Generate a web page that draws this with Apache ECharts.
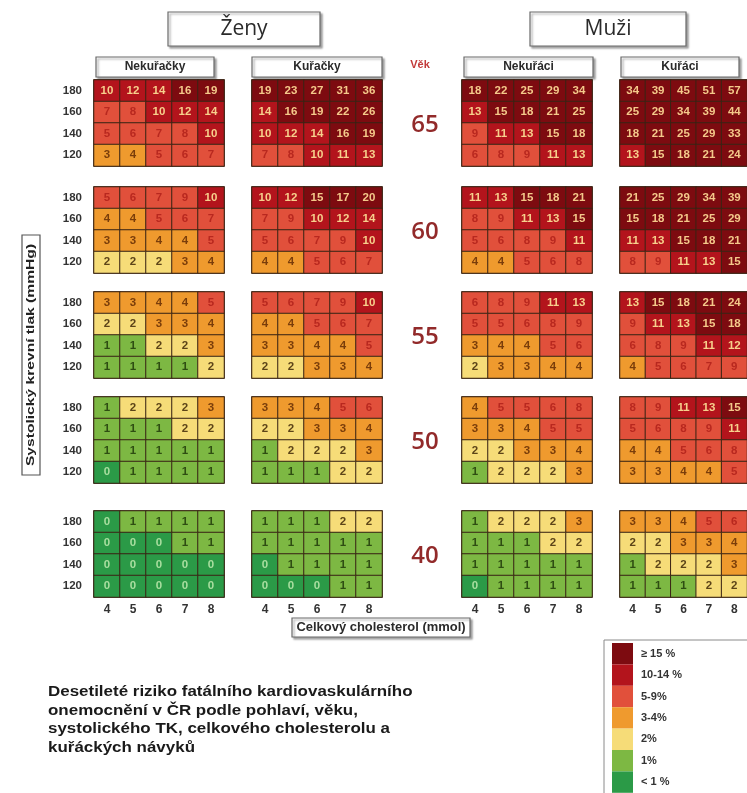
<!DOCTYPE html>
<html><head><meta charset="utf-8">
<script src="https://cdn.jsdelivr.net/npm/echarts@6/dist/echarts.min.js"></script>
<style>html,body{margin:0;padding:0;background:#fff}#c{width:747px;height:793px}</style>
</head><body><div id="c"></div><script>
// ---- data ----
const cholesterol = ['4', '5', '6', '7', '8'];
const systolic = ['120', '140', '160', '180'];   // bottom -> top
const ages = ['65', '60', '55', '50', '40'];
const groupNames = ['Nekuřačky', 'Kuřačky', 'Nekuřáci', 'Kuřáci'];
const genderNames = ['Ženy', 'Muži'];
// each age block: rows SBP 180,160,140,120 ; columns cholesterol 4..8
const zenyNekuracky = [
  [[10,12,14,16,19],[7,8,10,12,14],[5,6,7,8,10],[3,4,5,6,7]],
  [[5,6,7,9,10],[4,4,5,6,7],[3,3,4,4,5],[2,2,2,3,4]],
  [[3,3,4,4,5],[2,2,3,3,4],[1,1,2,2,3],[1,1,1,1,2]],
  [[1,2,2,2,3],[1,1,1,2,2],[1,1,1,1,1],[0,1,1,1,1]],
  [[0,1,1,1,1],[0,0,0,1,1],[0,0,0,0,0],[0,0,0,0,0]]
];
const zenyKuracky = [
  [[19,23,27,31,36],[14,16,19,22,26],[10,12,14,16,19],[7,8,10,11,13]],
  [[10,12,15,17,20],[7,9,10,12,14],[5,6,7,9,10],[4,4,5,6,7]],
  [[5,6,7,9,10],[4,4,5,6,7],[3,3,4,4,5],[2,2,3,3,4]],
  [[3,3,4,5,6],[2,2,3,3,4],[1,2,2,2,3],[1,1,1,2,2]],
  [[1,1,1,2,2],[1,1,1,1,1],[0,1,1,1,1],[0,0,0,1,1]]
];
const muziNekuraci = [
  [[18,22,25,29,34],[13,15,18,21,25],[9,11,13,15,18],[6,8,9,11,13]],
  [[11,13,15,18,21],[8,9,11,13,15],[5,6,8,9,11],[4,4,5,6,8]],
  [[6,8,9,11,13],[5,5,6,8,9],[3,4,4,5,6],[2,3,3,4,4]],
  [[4,5,5,6,8],[3,3,4,5,5],[2,2,3,3,4],[1,2,2,2,3]],
  [[1,2,2,2,3],[1,1,1,2,2],[1,1,1,1,1],[0,1,1,1,1]]
];
const muziKuraci = [
  [[34,39,45,51,57],[25,29,34,39,44],[18,21,25,29,33],[13,15,18,21,24]],
  [[21,25,29,34,39],[15,18,21,25,29],[11,13,15,18,21],[8,9,11,13,15]],
  [[13,15,18,21,24],[9,11,13,15,18],[6,8,9,11,12],[4,5,6,7,9]],
  [[8,9,11,13,15],[5,6,8,9,11],[4,4,5,6,8],[3,3,4,4,5]],
  [[3,3,4,5,6],[2,2,3,3,4],[1,2,2,2,3],[1,1,1,2,2]]
];
const riskLabels = ['< 1 %', '1%', '2%', '3-4%', '5-9%', '10-14 %', '≥ 15 %'];
const description = ['Desetileté riziko fatálního kardiovaskulárního', 'onemocnění v ČR podle pohlaví, věku,', 'systolického TK, celkového cholesterolu a', 'kuřáckých návyků'];

// ---- styling / layout ----
const groups = [zenyNekuracky, zenyKuracky, muziNekuraci, muziKuraci];
const colLeft = [94, 252, 462, 620];
const rowTop = [80, 187, 292, 397, 511];
const cellW = 26, cellH = 21.5;
const riskColors = ['#2b9a47', '#7db843', '#f6dc78', '#ef9a2e', '#e1503b', '#b3141c', '#7d0b10'];
const textColors = ['#a9de9f', '#2e4d12', '#5c4418', '#7a3d0a', '#b8281f', '#f7d08c', '#f4c98a'];
function bucket(v) { if (v < 1) return 0; if (v < 2) return 1; if (v < 3) return 2; if (v < 5) return 3; if (v < 10) return 4; if (v < 15) return 5; return 6; }
const ageColor = '#922a2a';
const FONT = 'Liberation Sans';

const grid = [], xAxis = [], yAxis = [], series = [];
ages.forEach((age, a) => {
  groups.forEach((grp, c) => {
    const gi = grid.length;
    grid.push({ left: colLeft[c], top: rowTop[a], width: cellW * 5, height: cellH * 4,
      show: true, borderColor: '#3a2414', borderWidth: 1.5, backgroundColor: 'transparent' });
    xAxis.push({ type: 'category', gridIndex: gi, data: cholesterol,
      axisLine: { show: false }, axisTick: { show: false }, splitLine: { show: false },
      axisLabel: { show: a === ages.length - 1, margin: 7, color: '#333', fontWeight: 'bold', fontSize: 12, fontFamily: FONT } });
    yAxis.push({ type: 'category', gridIndex: gi, data: systolic,
      axisLine: { show: false }, axisTick: { show: false }, splitLine: { show: false },
      axisLabel: { show: c === 0, margin: 12, color: '#333', fontWeight: 'bold', fontSize: 11.5, fontFamily: FONT } });
    const data = [];
    grp[a].forEach((row, r) => {
      row.forEach((v, x) => {
        data.push({ value: [x, 3 - r, v], label: { color: textColors[bucket(v)] } });
      });
    });
    series.push({ type: 'heatmap', xAxisIndex: gi, yAxisIndex: gi, data,
      itemStyle: { borderColor: '#3a2414', borderWidth: 1 },
      label: { show: true, formatter: p => p.value[2], fontWeight: 'bold', fontSize: 11.5, fontFamily: FONT },
      emphasis: { disabled: true }, silent: true });
  });
});

const graphic = [];
function box(x, y, w, h, txt, font, shadow, sx) {
  graphic.push({ type: 'rect', shape: { x, y, width: w, height: h },
    style: { fill: '#fff', stroke: '#6a6a6a', lineWidth: 1.2, shadowColor: shadow ? 'rgba(0,0,0,0.35)' : 'transparent', shadowOffsetX: 2, shadowOffsetY: 2, shadowBlur: 2 } });
  graphic.push({ type: 'text', x: x + w / 2, y: y + h / 2, scaleX: sx || 1,
    style: { text: txt, font, fill: '#2a2a2a', align: 'center', verticalAlign: 'middle' } });
}
box(168, 12, 152, 34, genderNames[0], '500 21px "Open Sans"', true);
box(530, 12, 156, 34, genderNames[1], '500 21px "Open Sans"', true);
const subX = [96, 252, 464, 621], subW = [118, 130, 129, 118];
groupNames.forEach((g, i) => box(subX[i], 57, subW[i], 20, g, 'bold 12px ' + FONT, true));
graphic.push({ type: 'text', x: 420, y: 65, style: { text: 'Věk', font: 'bold 11px ' + FONT, fill: '#c23a3a', align: 'center', verticalAlign: 'middle' } });
ages.forEach((age, a) => {
  graphic.push({ type: 'text', x: 425, y: rowTop[a] + cellH * 2 + 2,
    style: { text: age, font: '600 24px "Open Sans"', fill: ageColor, align: 'center', verticalAlign: 'middle' } });
});
// y axis title
graphic.push({ type: 'rect', shape: { x: 22, y: 235, width: 18, height: 240 }, style: { fill: '#fff', stroke: '#555', lineWidth: 1.2 } });
graphic.push({ type: 'text', x: 31, y: 355, rotation: Math.PI / 2, scaleX: 1.42,
  style: { text: 'Systolický krevní tlak (mmHg)', font: 'bold 11px ' + FONT, fill: '#222', align: 'center', verticalAlign: 'middle' } });
// x axis title
box(292, 618, 178, 19, 'Celkový cholesterol (mmol)', 'bold 12px ' + FONT, true, 1.08);
// description
graphic.push({ type: 'text', x: 48, y: 683, scaleX: 1.13,
  style: { text: description.join('\n'), font: 'bold 15px ' + FONT, lineHeight: 18.5, fill: '#1a1a1a', align: 'left', verticalAlign: 'top' } });
// legend frame
graphic.push({ type: 'rect', z: -1, shape: { x: 604, y: 640, width: 160, height: 160 }, style: { fill: '#fff', stroke: '#8a8a8a', lineWidth: 1 } });

const pieces = [
  { lt: 1 }, { gte: 1, lt: 2 }, { gte: 2, lt: 3 }, { gte: 3, lt: 5 },
  { gte: 5, lt: 10 }, { gte: 10, lt: 15 }, { gte: 15 }
].map((p, i) => Object.assign(p, { label: riskLabels[i], color: riskColors[i] }));

const chart = echarts.init(document.getElementById('c'), null, { renderer: 'canvas' });
chart.setOption({
  backgroundColor: '#fff',
  animation: false,
  grid, xAxis, yAxis, series, graphic,
  visualMap: {
    type: 'piecewise', dimension: 2, seriesIndex: series.map((s, i) => i),
    pieces, orient: 'vertical', left: 607, top: 638, padding: 5, align: 'left',
    itemWidth: 21, itemHeight: 21.4, itemGap: 0,
    itemSymbol: 'rect', textGap: 8, selectedMode: false, hoverLink: false,
    textStyle: { color: '#333', fontWeight: 'bold', fontSize: 11, fontFamily: FONT }
  }
});
</script></body></html>
